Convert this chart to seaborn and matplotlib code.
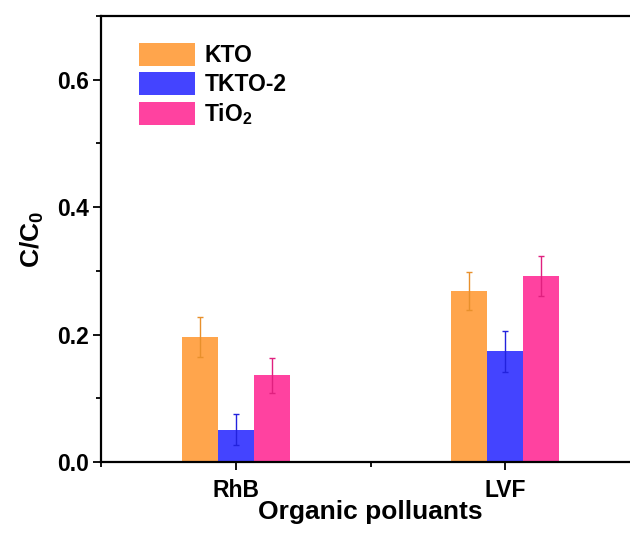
import numpy as np
import pandas as pd
import matplotlib
matplotlib.use("Agg")
import matplotlib.pyplot as plt
from matplotlib.ticker import MultipleLocator, FixedLocator
import seaborn as sns

# Degradation results: remaining fraction C/C0 per pollutant and catalyst
pollutants = ["RhB", "LVF"]
catalysts = ["KTO", "TKTO-2", "TiO$_2$"]
kto = [0.196, 0.268]
tkto2 = [0.051, 0.174]
tio2 = [0.136, 0.292]
kto_err = [0.031, 0.030]
tkto2_err = [0.025, 0.032]
tio2_err = [0.028, 0.032]

bar_colors = ["#FFA54C", "#4444FF", "#FF42A0"]
err_colors = ["#E8902C", "#2222DD", "#E0207F"]

df = pd.DataFrame({
    "pollutant": pollutants * 3,
    "catalyst": [c for c in catalysts for _ in pollutants],
    "value": kto + tkto2 + tio2,
    "err": kto_err + tkto2_err + tio2_err,
})

sns.set_theme(style="white")
plt.rcParams["font.family"] = ["Liberation Sans", "DejaVu Sans"]
plt.rcParams["font.weight"] = "bold"
plt.rcParams["text.color"] = "black"
plt.rcParams["axes.labelcolor"] = "black"
plt.rcParams["xtick.color"] = "black"
plt.rcParams["ytick.color"] = "black"
plt.rcParams["mathtext.fontset"] = "custom"
plt.rcParams["mathtext.rm"] = "Liberation Sans:bold"
plt.rcParams["mathtext.it"] = "Liberation Sans:bold"
plt.rcParams["mathtext.bf"] = "Liberation Sans:bold"
plt.rcParams["mathtext.default"] = "rm"

fig = plt.figure(figsize=(6.30, 5.41), dpi=100)
ax = fig.add_axes([101 / 630, 1 - 462 / 541, 539 / 630, 446 / 541])

sns.barplot(data=df, x="pollutant", y="value", hue="catalyst",
            palette=bar_colors, width=0.4, errorbar=None, saturation=1,
            linewidth=0, ax=ax)

# Error bars centred on each drawn bar
for idx, (cat, ecol) in enumerate(zip(catalysts, err_colors)):
    sub = df[df["catalyst"] == cat]
    container = ax.containers[idx]
    xs = [p.get_x() + p.get_width() / 2 for p in container.patches]
    ax.errorbar(xs, sub["value"].values, yerr=sub["err"].values, fmt="none",
                ecolor=ecol, elinewidth=1.0, capsize=2.5, capthick=1.0, zorder=5)

ax.set_xlim(-0.5, 1.5)
ax.set_ylim(0, 0.7)
ax.set_yticks([0.0, 0.2, 0.4, 0.6])
ax.set_yticklabels(["0.0", "0.2", "0.4", "0.6"])
ax.yaxis.set_minor_locator(MultipleLocator(0.1))
ax.xaxis.set_minor_locator(FixedLocator([-0.5, 0.5, 1.5]))

for s in ax.spines.values():
    s.set_color("black")
    s.set_linewidth(1.6)

ax.tick_params(axis="both", which="major", direction="out", length=6, width=1.3,
               color="black", labelsize=16.5, labelcolor="black", bottom=True, left=True)
ax.tick_params(axis="x", which="major", pad=6)
ax.tick_params(axis="y", which="major", pad=3)
ax.tick_params(axis="both", which="minor", direction="out", length=3.5, width=1.3,
               color="black", bottom=True, left=True)
for lab in ax.get_xticklabels() + ax.get_yticklabels():
    lab.set_fontweight("bold")

ax.set_xlabel("Organic polluants", fontsize=19, fontweight="bold", labelpad=-1)
ax.set_ylabel("C/C$_0$", fontsize=19, fontweight="bold", labelpad=8)

leg = ax.legend(loc="upper left", bbox_to_anchor=(139 / 630, 1 - 43 / 541),
                bbox_transform=fig.transFigure, frameon=False, fontsize=16.5,
                handlelength=2.45, handleheight=1.15, labelspacing=0.22,
                handletextpad=0.4, borderpad=0, borderaxespad=0)
for t in leg.get_texts():
    t.set_fontweight("bold")

fig.savefig("out.png", dpi=100)
